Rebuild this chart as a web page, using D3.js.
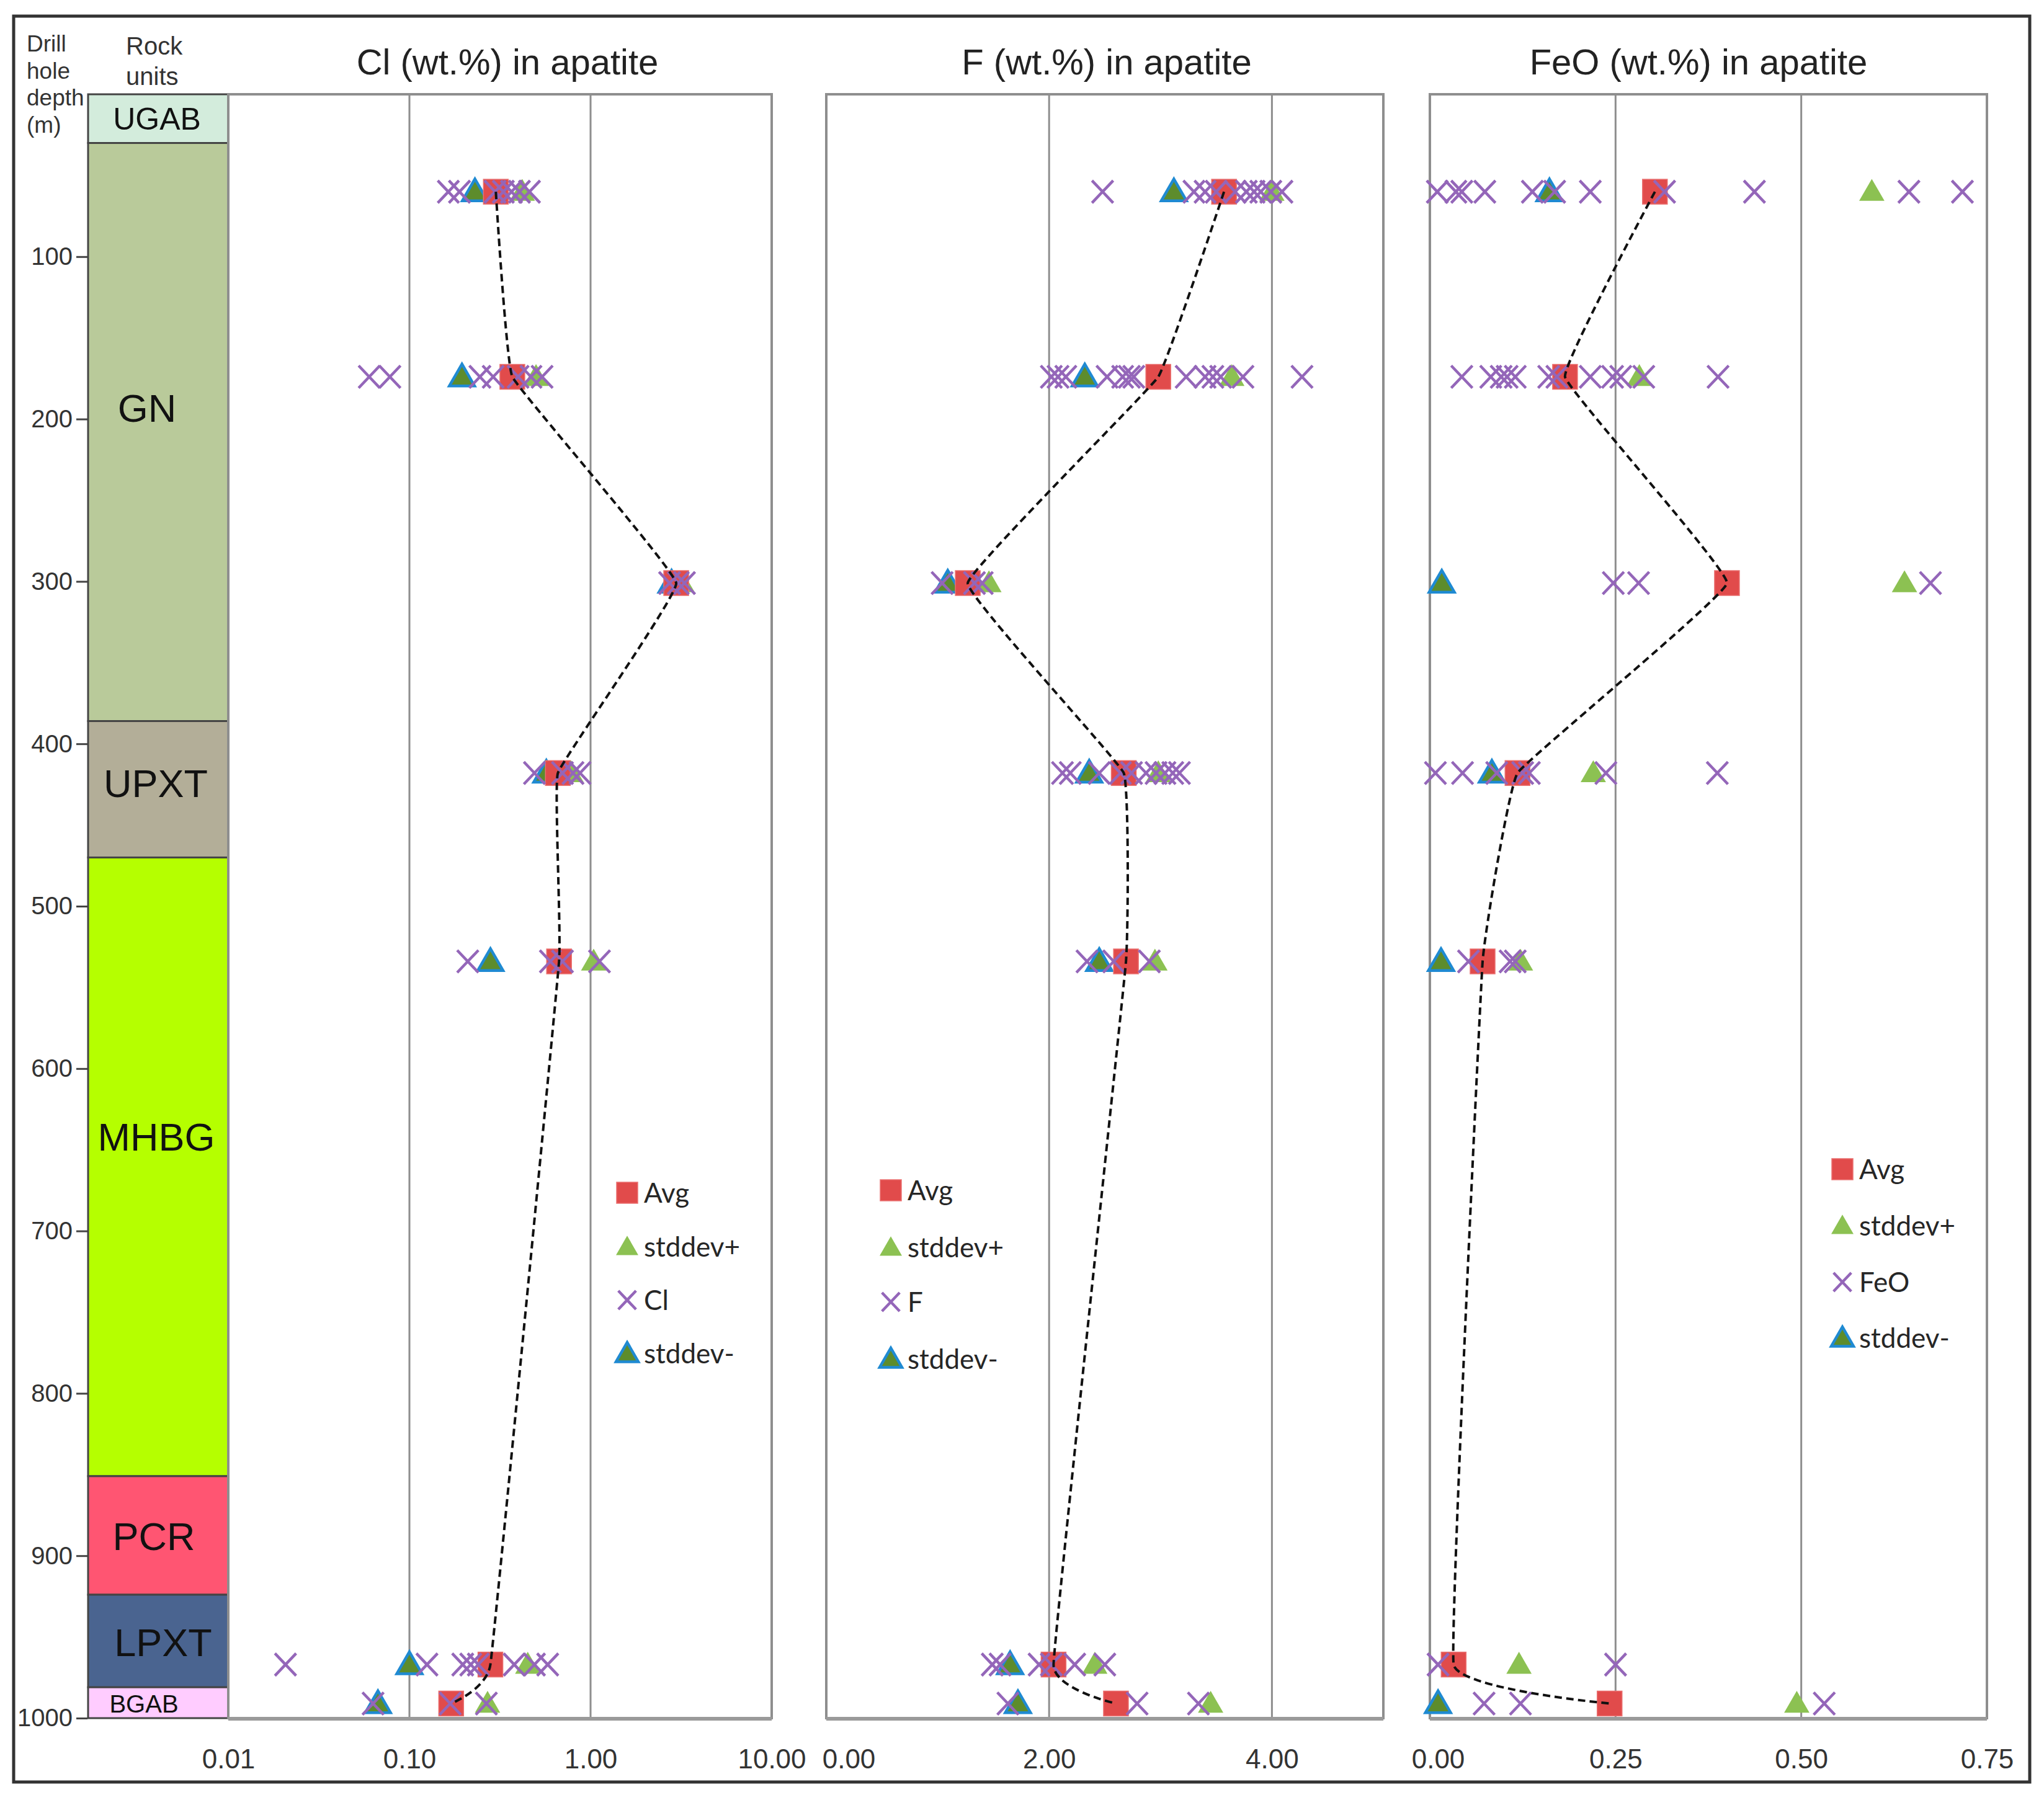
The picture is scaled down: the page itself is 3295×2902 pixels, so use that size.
<!DOCTYPE html>
<html><head><meta charset="utf-8">
<script src="https://cdn.jsdelivr.net/npm/d3@7"></script>
<style>html,body{margin:0;padding:0;background:#fff}</style>
</head><body>
<svg id="c" width="3295" height="2902"></svg>
<script>
// ---------------- DATA ----------------
const depths = [60, 174, 301, 418, 534, 967, 991];

const unitNames   = ["UGAB", "GN", "UPXT", "MHBG", "PCR", "LPXT", "BGAB"];
const unitTops    = [0, 30, 386, 470, 851, 924, 981];
const unitBottoms = [30, 386, 470, 851, 924, 981, 1000];

const depthTicks = [100, 200, 300, 400, 500, 600, 700, 800, 900, 1000];

// Cl (wt.%) – log axis
const clTicks   = [0.01, 0.1, 1, 10];
const clAvg     = [0.30, 0.37, 2.97, 0.66, 0.67, 0.28, 0.17];
const clSdPlus  = [0.42, 0.50, 3.20, 0.78, 1.04, 0.45, 0.27];
const clSdMinus = [0.23, 0.195, 2.80, 0.57, 0.28, 0.10, 0.067];
const clPoints  = [
  [0.164, 0.189, 0.297, 0.33, 0.366, 0.405, 0.46],
  [0.060, 0.078, 0.245, 0.29, 0.398, 0.469, 0.54],
  [2.73, 3.05, 3.30],
  [0.49, 0.70, 0.80, 0.875],
  [0.21, 0.60, 0.70, 1.12],
  [0.0207, 0.125, 0.197, 0.218, 0.24, 0.379, 0.49, 0.58],
  [0.063, 0.168, 0.266]
];

// F (wt.%)
const fTicks   = [0, 2, 4];
const fAvg     = [3.57, 2.98, 1.27, 2.67, 2.69, 2.04, 2.60];
const fSdPlus  = [4.00, 3.64, 1.46, 2.98, 2.95, 2.41, 3.45];
const fSdMinus = [3.12, 2.32, 1.09, 2.36, 2.45, 1.65, 1.72];
const fPoints  = [
  [2.48, 3.30, 3.40, 3.50, 3.67, 3.77, 3.84, 3.90, 3.99, 4.09],
  [2.02, 2.08, 2.15, 2.52, 2.66, 2.72, 2.76, 3.23, 3.40, 3.47, 3.54, 3.74, 4.27],
  [1.04, 1.33, 1.40],
  [2.12, 2.19, 2.45, 2.64, 2.74, 2.87, 2.96, 3.04, 3.11, 3.17],
  [2.34, 2.58, 2.90],
  [1.49, 1.56, 1.91, 2.02, 2.23, 2.50],
  [1.63, 2.79, 3.34]
];

// FeO (wt.%)
const feTicks   = [0, 0.25, 0.5, 0.75];
const feAvg     = [0.303, 0.182, 0.400, 0.118, 0.071, 0.032, 0.242];
const feSdPlus  = [0.595, 0.282, 0.639, 0.220, 0.122, 0.120, 0.494];
const feSdMinus = [0.161, null, 0.016, 0.0835, 0.015, null, 0.011];
const fePoints  = [
  [0.010, 0.035, 0.043, 0.074, 0.138, 0.168, 0.216, 0.316, 0.437, 0.645, 0.717],
  [0.043, 0.082, 0.096, 0.104, 0.115, 0.160, 0.171, 0.216, 0.246, 0.257, 0.288, 0.388],
  [0.247, 0.281, 0.674],
  [0.0075, 0.044, 0.090, 0.125, 0.134, 0.237, 0.387],
  [0.052, 0.108, 0.115],
  [0.011, 0.250],
  [0.073, 0.122, 0.531]
];

// ---------------- STYLE / LAYOUT ----------------
const unitStyle = {
  UGAB: {fill: "#d3ecdc", size: 50, dx: -2, labelDepth: 15},
  GN:   {fill: "#b9ca9a", size: 63, dx: -18, labelDepth: 193},
  UPXT: {fill: "#b3ae98", size: 63, dx: -4, labelDepth: 424},
  MHBG: {fill: "#b5ff00", size: 63, dx: -3, labelDepth: 642},
  PCR:  {fill: "#ff5572", size: 63, dx: -7, labelDepth: 888},
  LPXT: {fill: "#4a6490", size: 63, dx: 8, labelDepth: 953},
  BGAB: {fill: "#ffccff", size: 40, dx: -23, labelDepth: 991}
};
const C = {
  red: "#e14b4b", green: "#8cc152", dkgreen: "#5d8c2c", blue: "#1f8ad2",
  purple: "#9466b9", grid: "#8e8e8e", text: "#262626"
};
const FONT = "'Liberation Sans', Arial, sans-serif";
const LFONT = "Lato, 'Liberation Sans', sans-serif";

const svg = d3.select("#c");
svg.append("rect").attr("width", 3295).attr("height", 2902).attr("fill", "#fff");

const y = d3.scaleLinear().domain([0, 1000]).range([152, 2770]);
const Y0 = y(0), Y1 = y(1000);

const panels = [
  {key: "Cl", title: "Cl (wt.%) in apatite", titleX: 818, legendName: "Cl",
   x: d3.scaleLog().domain([0.01, 10]).range([368, 1244]),
   ticks: clTicks, grid: [0.1, 1], zeroShift: 0,
   avg: clAvg, sp: clSdPlus, sm: clSdMinus, pts: clPoints,
   legend: {x: 1011, y: [1923, 2010, 2096, 2182]}},
  {key: "F", title: "F (wt.%) in apatite", titleX: 1784, legendName: "F",
   x: d3.scaleLinear().domain([0, 5]).range([1332, 2230]),
   ticks: fTicks, grid: [2, 4], zeroShift: 36,
   avg: fAvg, sp: fSdPlus, sm: fSdMinus, pts: fPoints,
   legend: {x: 1436, y: [1919, 2011, 2099, 2191]}},
  {key: "FeO", title: "FeO (wt.%) in apatite", titleX: 2738, legendName: "FeO",
   x: d3.scaleLinear().domain([0, 0.75]).range([2305, 3203]),
   ticks: feTicks, grid: [0.25, 0.5], zeroShift: 13,
   avg: feAvg, sp: feSdPlus, sm: feSdMinus, pts: fePoints,
   legend: {x: 2970, y: [1885, 1976, 2067, 2157]}}
];

// marker helpers
const triPath = d3.symbol().type(d3.symbolTriangle).size(720)();
const triPathL = d3.symbol().type(d3.symbolTriangle).size(560)();
function drawSquare(g, cx, cy, s) {
  g.append("rect").attr("x", cx - s / 2).attr("y", cy - s / 2).attr("width", s).attr("height", s)
    .attr("fill", C.red).attr("stroke", "#ea7070").attr("stroke-width", 1.5);
}
function drawTriPlus(g, cx, cy, p) {
  g.append("path").attr("d", p).attr("transform", `translate(${cx},${cy + 3})`).attr("fill", C.green);
}
function drawTriMinus(g, cx, cy, p) {
  g.append("path").attr("d", p).attr("transform", `translate(${cx},${cy + 3})`)
    .attr("fill", C.dkgreen).attr("stroke", C.blue).attr("stroke-width", 4.5).attr("stroke-linejoin", "miter");
}
function drawX(g, cx, cy, h) {
  g.append("path").attr("d", `M${cx - h * 0.95},${cy - h}L${cx + h * 0.95},${cy + h}M${cx - h * 0.95},${cy + h}L${cx + h * 0.95},${cy - h}`)
    .attr("stroke", C.purple).attr("stroke-width", 4.5).attr("fill", "none");
}

// ---------------- STRATA COLUMN ----------------
const sx0 = 142, sx1 = 368;
const strata = svg.append("g");
unitNames.forEach((n, i) => {
  strata.append("rect").attr("x", sx0).attr("y", y(unitTops[i])).attr("width", sx1 - sx0)
    .attr("height", y(unitBottoms[i]) - y(unitTops[i]))
    .attr("fill", unitStyle[n].fill).attr("stroke", "#444").attr("stroke-width", 3);
});
unitNames.forEach((n, i) => {
  const st = unitStyle[n];
  strata.append("text").attr("x", (sx0 + sx1) / 2 + st.dx).attr("y", y(st.labelDepth))
    .attr("dy", "0.36em").attr("text-anchor", "middle")
    .attr("font-family", FONT).attr("font-size", st.size).attr("fill", "#111").text(n);
});

// depth axis
const yAxis = svg.append("g").attr("transform", `translate(${sx0 - 1},0)`)
  .call(d3.axisLeft(y).tickValues(depthTicks).tickSize(18).tickPadding(6).tickFormat(d3.format("d")));
yAxis.select(".domain").remove();
yAxis.selectAll(".tick line").attr("stroke", "#444").attr("stroke-width", 3);
yAxis.selectAll(".tick text").attr("font-family", FONT).attr("font-size", 40).attr("fill", "#333");

// header texts
const hdr = svg.append("g").attr("font-family", FONT).attr("fill", "#333");
["Drill", "hole", "depth", "(m)"].forEach((t, i) =>
  hdr.append("text").attr("x", 43).attr("y", 83 + i * 43.5).attr("font-size", 37).text(t));
["Rock", "units"].forEach((t, i) =>
  hdr.append("text").attr("x", 203).attr("y", 88 + i * 49).attr("font-size", 40).text(t));

// ---------------- PANELS ----------------
panels.forEach(p => {
  const g = svg.append("g");
  const [px0, px1] = p.x.range();
  p.grid.forEach(v => g.append("line").attr("x1", p.x(v)).attr("x2", p.x(v)).attr("y1", Y0).attr("y2", Y1)
    .attr("stroke", C.grid).attr("stroke-width", 3));
  g.append("rect").attr("x", px0).attr("y", Y0).attr("width", px1 - px0).attr("height", Y1 - Y0)
    .attr("fill", "none").attr("stroke", C.grid).attr("stroke-width", 4);
  g.append("line").attr("x1", px0).attr("x2", px1).attr("y1", Y1 + 1).attr("y2", Y1 + 1)
    .attr("stroke", "#9a9a9a").attr("stroke-width", 6);

  const ax = svg.append("g").attr("transform", `translate(0,${Y1})`)
    .call(d3.axisBottom(p.x).tickValues(p.ticks).tickSize(0).tickPadding(50).tickFormat(d3.format(".2f")));
  ax.select(".domain").remove();
  ax.selectAll(".tick text").attr("font-family", FONT).attr("font-size", 44).attr("fill", "#333")
    .attr("dx", (d, i) => i === 0 ? p.zeroShift : 0);

  svg.append("text").attr("x", p.titleX).attr("y", 120).attr("text-anchor", "middle")
    .attr("font-family", FONT).attr("font-size", 58).attr("fill", "#222").text(p.title);

  const m = svg.append("g");
  depths.forEach((d, i) => {
    const cy = y(d);
    if (p.sp[i] != null) drawTriPlus(m, p.x(p.sp[i]), cy, triPath);
    if (p.sm[i] != null) drawTriMinus(m, p.x(p.sm[i]), cy, triPath);
    drawSquare(m, p.x(p.avg[i]), cy, 40);
    p.pts[i].forEach(v => drawX(m, p.x(v), cy, 18));
  });

  const line = d3.line().x(d => p.x(d[0])).y(d => y(d[1])).curve(d3.curveCardinal.tension(0.8));
  svg.append("path").attr("d", line(depths.map((d, i) => [p.avg[i], d])))
    .attr("fill", "none").attr("stroke", "#111").attr("stroke-width", 4).attr("stroke-dasharray", "12,7");

  const L = svg.append("g");
  const lx = p.legend.x, ly = p.legend.y;
  drawSquare(L, lx, ly[0], 34);
  drawTriPlus(L, lx, ly[1], triPathL);
  drawX(L, lx, ly[2], 15);
  drawTriMinus(L, lx, ly[3], triPathL);
  ["Avg", "stddev+", p.legendName, "stddev-"].forEach((t, i) =>
    L.append("text").attr("x", lx + 27).attr("y", ly[i]).attr("dy", "0.36em")
      .attr("font-family", LFONT).attr("font-size", 44).attr("fill", C.text).text(t));
});

svg.append("rect").attr("x", 22).attr("y", 26).attr("width", 3250).attr("height", 2847)
  .attr("fill", "none").attr("stroke", "#333").attr("stroke-width", 5);
</script>
</body></html>
